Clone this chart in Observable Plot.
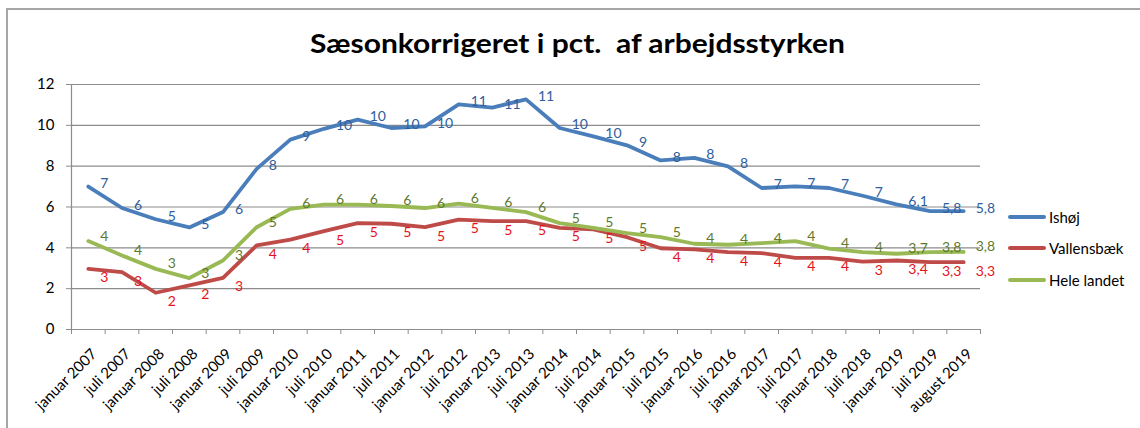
<!DOCTYPE html>
<html>
<head>
<meta charset="utf-8">
<script src="https://cdn.jsdelivr.net/npm/d3@7"></script>
<script src="https://cdn.jsdelivr.net/npm/@observablehq/plot@0.6"></script>
<style>
  html, body { margin: 0; padding: 0; background: #fff; }
  body { width: 1140px; height: 428px; position: relative; overflow: hidden; font-family: Lato, "Open Sans", sans-serif; }
  #frame { position: absolute; left: 6px; top: 8px; width: 1200px; height: 500px; border-left: 2px solid #a6a6a6; border-top: 2px solid #a6a6a6; }
  #title { position: absolute; left: 0; top: 0; height: 60px; }
  #title span { position: absolute; left: 0; top: 27.5px; font-weight: 700; font-size: 27px; line-height: 30px; white-space: pre; transform-origin: 0 50%; color: #000; }
  #chart { position: absolute; left: 0; top: 60px; }
  .leg { position: absolute; font-size: 15px; color: #000; line-height: 18px; }
  .sw { position: absolute; width: 38px; height: 4px; border-radius: 2px; }
</style>
</head>
<body>
<div id="frame"></div>
<div id="title"><span id="tt">Sæsonkorrigeret i pct.  af arbejdsstyrken</span></div>
<div id="chart"></div>
<div id="legend"></div>
<script>
const categories = ["januar 2007","juli 2007","januar 2008","juli 2008","januar 2009","juli 2009","januar 2010","juli 2010","januar 2011","juli 2011","januar 2012","juli 2012","januar 2013","juli 2013","januar 2014","juli 2014","januar 2015","juli 2015","januar 2016","juli 2016","januar 2017","juli 2017","januar 2018","juli 2018","januar 2019","juli 2019","august 2019"];

const seriesNames = ["Ishøj", "Vallensbæk", "Hele landet"];

const ishoj = [7.0,5.95,5.4,5.0,5.75,7.87,9.3,9.83,10.28,9.87,9.95,11.03,10.87,11.27,9.87,9.46,9.02,8.28,8.41,7.99,6.93,7.01,6.93,6.55,6.13,5.8,5.8];
const vallensbaek = [2.97,2.81,1.8,2.16,2.53,4.12,4.4,4.82,5.21,5.18,5.01,5.38,5.31,5.31,4.98,4.9,4.52,3.98,3.92,3.79,3.74,3.51,3.51,3.32,3.38,3.3,3.3];
const heleLandet = [4.33,3.63,2.97,2.52,3.38,5.01,5.91,6.12,6.12,6.05,5.95,6.16,5.96,5.75,5.21,4.98,4.72,4.52,4.2,4.15,4.23,4.33,3.96,3.79,3.71,3.79,3.8];

const ishojLabels = ["7","6","5","5","6","8","9","10","10","10","10","11","11","11","10","10","9","8","8","8","7","7","7","7","6,1","5,8","5,8"];
const vallensbaekLabels = ["3","3","2","2","3","4","4","5","5","5","5","5","5","5","5","5","5","4","4","4","4","4","4","3","3,4","3,3","3,3"];
const heleLandetLabels = ["4","4","3","3","3","5","6","6","6","6","6","6","6","6","5","5","5","5","4","4","4","4","4","4","3,7","3,8","3,8"];

const yTicks = [0, 2, 4, 6, 8, 10, 12];

const lineColors = ["#4A7EBB", "#BE4B48", "#98B954"];
const labelColors = ["#2F5E9C", "#E5121B", "#5F7A2F"];
const labelShift = [-3, 9, -5];

const valuesBySeries = [ishoj, vallensbaek, heleLandet];
const labelsBySeries = [ishojLabels, vallensbaekLabels, heleLandetLabels];

const tables = valuesBySeries.map((vals, s) =>
  vals.map((v, i) => ({ i, value: v, label: labelsBySeries[s][i], series: seriesNames[s] }))
);

const boundaries = d3.range(categories.length + 1).map(k => k - 0.5);
const grey = "#8c8c8c";

const marks = [
  Plot.gridY({ ticks: yTicks, stroke: grey, strokeOpacity: 1, strokeWidth: 1.2 }),
  Plot.ruleX([-0.5], { stroke: grey, strokeWidth: 1.2 }),
  Plot.axisY({ ticks: yTicks, tickSize: 5, tickPadding: 12, fontSize: 15, stroke: grey, fill: "#000", label: null }),
  Plot.axisX({ ticks: boundaries, tickSize: 5, tickFormat: () => "", stroke: grey, label: null }),
  Plot.axisX({ ticks: d3.range(categories.length), tickSize: 0, tickPadding: 22, tickRotate: -45, tickFormat: i => categories[i], fontSize: 15, fill: "#000", label: null, dx: 6 })
];

tables.forEach((t, s) => {
  marks.push(Plot.line(t, { x: "i", y: "value", stroke: lineColors[s], strokeWidth: 3.8, strokeLinejoin: "round", strokeLinecap: "round" }));
});
tables.forEach((t, s) => {
  marks.push(Plot.text(t, { x: "i", y: "value", text: "label", fill: labelColors[s], dx: 12, dy: labelShift[s], textAnchor: "start", fontSize: 14 }));
});

const chart = Plot.plot({
  width: 1140,
  height: 368,
  marginLeft: 71,
  marginRight: 160,
  marginTop: 24,
  marginBottom: 99,
  x: { type: "linear", domain: [-0.5, categories.length - 0.5] },
  y: { domain: [0, 12] },
  style: { fontFamily: "Lato, 'Open Sans', sans-serif", fontSize: "14px", background: "transparent", overflow: "visible", color: "#000" },
  marks
});
document.getElementById("chart").appendChild(chart);

// legend (HTML, to the right of the plot)
const legend = document.getElementById("legend");
const legendY = [217, 248, 280];
seriesNames.forEach((name, s) => {
  const sw = document.createElement("div");
  sw.className = "sw";
  sw.style.left = "1008px";
  sw.style.top = (legendY[s] - 2) + "px";
  sw.style.background = lineColors[s];
  legend.appendChild(sw);
  const lab = document.createElement("div");
  lab.className = "leg";
  lab.style.left = "1049px";
  lab.style.top = (legendY[s] - 9) + "px";
  lab.textContent = name;
  legend.appendChild(lab);
});

// fit title to the reference extent (x 310 to 845)
const tt = document.getElementById("tt");
const w = tt.getBoundingClientRect().width;
tt.style.left = "310px";
tt.style.transform = `scaleX(${535 / w})`;
</script>
</body>
</html>
